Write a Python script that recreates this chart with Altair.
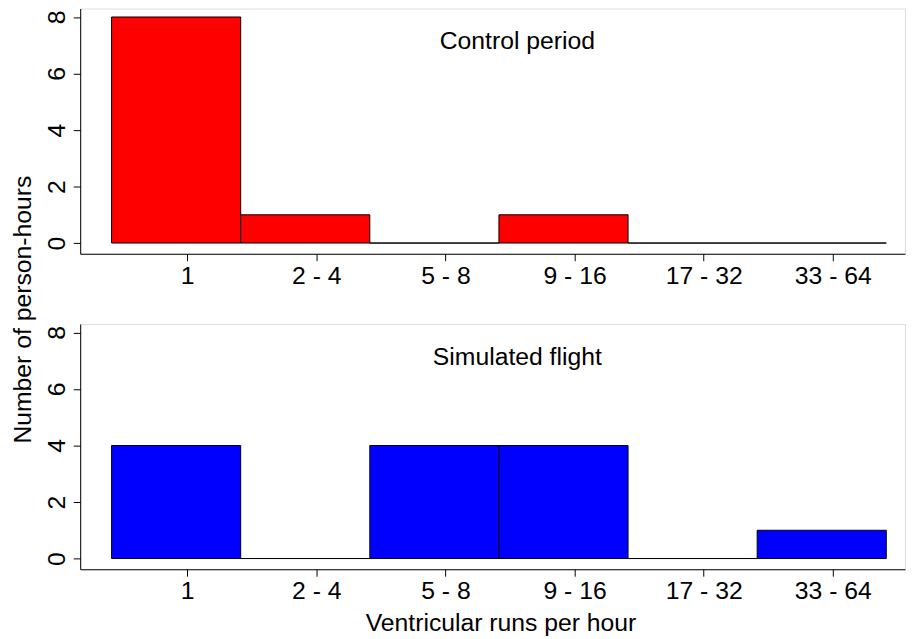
import altair as alt
import pandas as pd

# ---- data ----
categories = ["1", "2 - 4", "5 - 8", "9 - 16", "17 - 32", "33 - 64"]
control_counts = [8, 1, 0, 1, 0, 0]
flight_counts = [4, 0, 4, 4, 0, 1]
panel_labels = ["Control period", "Simulated flight"]
panel_colors = ["#ff0000", "#0000ff"]
y_ticks = [0, 2, 4, 6, 8]
x_title = "Ventricular runs per hour"
y_title = "Number of person-hours"

# ---- layout / style ----
FONT = "Liberation Sans"
FS = 25
W, H = 834, 248
X_DOMAIN = [-0.243, 6.145]
TICK_OFFSET = 0.586
Y_DOMAIN = [-0.38, 8.3]

tick_values = [i + TICK_OFFSET for i in range(len(categories))]
label_array = "[" + ",".join("'" + c + "'" for c in categories) + "]"
label_expr = label_array + "[round(datum.value - " + str(TICK_OFFSET) + ")]"


def panel(counts, label, color, first):
    df = pd.DataFrame({
        "bin": list(range(len(categories))),
        "bin_end": [i + 1 for i in range(len(categories))],
        "category": categories,
        "count": counts,
    })
    x_kwargs = dict(
        values=tick_values, labelExpr=label_expr, tickSize=7, labelPadding=23,
        labelBaseline="alphabetic", labelAlign="center", labelFontSize=FS, labelFont=FONT,
        labelColor="black", labelFlush=False, labelOverlap=False, grid=False,
        domainColor="black", tickColor="black", domainWidth=1, tickWidth=1,
    )
    if first:
        x_axis = alt.Axis(title=None, **x_kwargs)
    else:
        x_axis = alt.Axis(title=x_title, titleFont=FONT, titleFontSize=FS,
                          titleFontWeight="normal", titleColor="black",
                          titleBaseline="alphabetic", titleAlign="center",
                          titleX=425, titleY=62, **x_kwargs)
    y_kwargs = dict(
        values=y_ticks, labelAngle=270, labelAlign="center", labelBaseline="alphabetic",
        labelPadding=9, tickSize=7, labelFontSize=FS, labelFont=FONT, labelColor="black",
        labelFlush=False, labelOverlap=False, grid=False, domainColor="black",
        tickColor="black", domainWidth=1, tickWidth=1,
    )
    if first:
        y_axis = alt.Axis(title=y_title, titleFont=FONT, titleFontSize=FS,
                          titleFontWeight="normal", titleColor="black", titleAngle=270,
                          titleBaseline="alphabetic", titleAlign="center",
                          titleX=-50, titleY=304, **y_kwargs)
    else:
        y_axis = alt.Axis(title=None, **y_kwargs)

    bars = alt.Chart(df).mark_bar(color=color, stroke="black", strokeWidth=1).encode(
        x=alt.X("bin:Q", scale=alt.Scale(domain=X_DOMAIN, nice=False, zero=False), axis=x_axis),
        x2="bin_end:Q",
        y=alt.Y("count:Q", scale=alt.Scale(domain=Y_DOMAIN, nice=False, zero=False), axis=y_axis),
        y2=alt.datum(0),
    )
    label_df = pd.DataFrame({"label": [label]})
    text = alt.Chart(label_df).mark_text(
        font=FONT, fontSize=FS, fontWeight="normal", align="center",
        baseline="alphabetic", color="black"
    ).encode(text="label:N", x=alt.value(442), y=alt.value(41))
    return alt.layer(bars, text).properties(width=W, height=H)


top = panel(control_counts, panel_labels[0], panel_colors[0], True)
bottom = panel(flight_counts, panel_labels[1], panel_colors[1], False)

chart = alt.vconcat(top, bottom, spacing=71, bounds="flush").properties(
    padding={"left": 2, "top": -4, "right": 0, "bottom": 0}
).configure_view(stroke=None).configure(background="white")

chart.save("out.html", embed_options={"renderer": "svg", "actions": False})
